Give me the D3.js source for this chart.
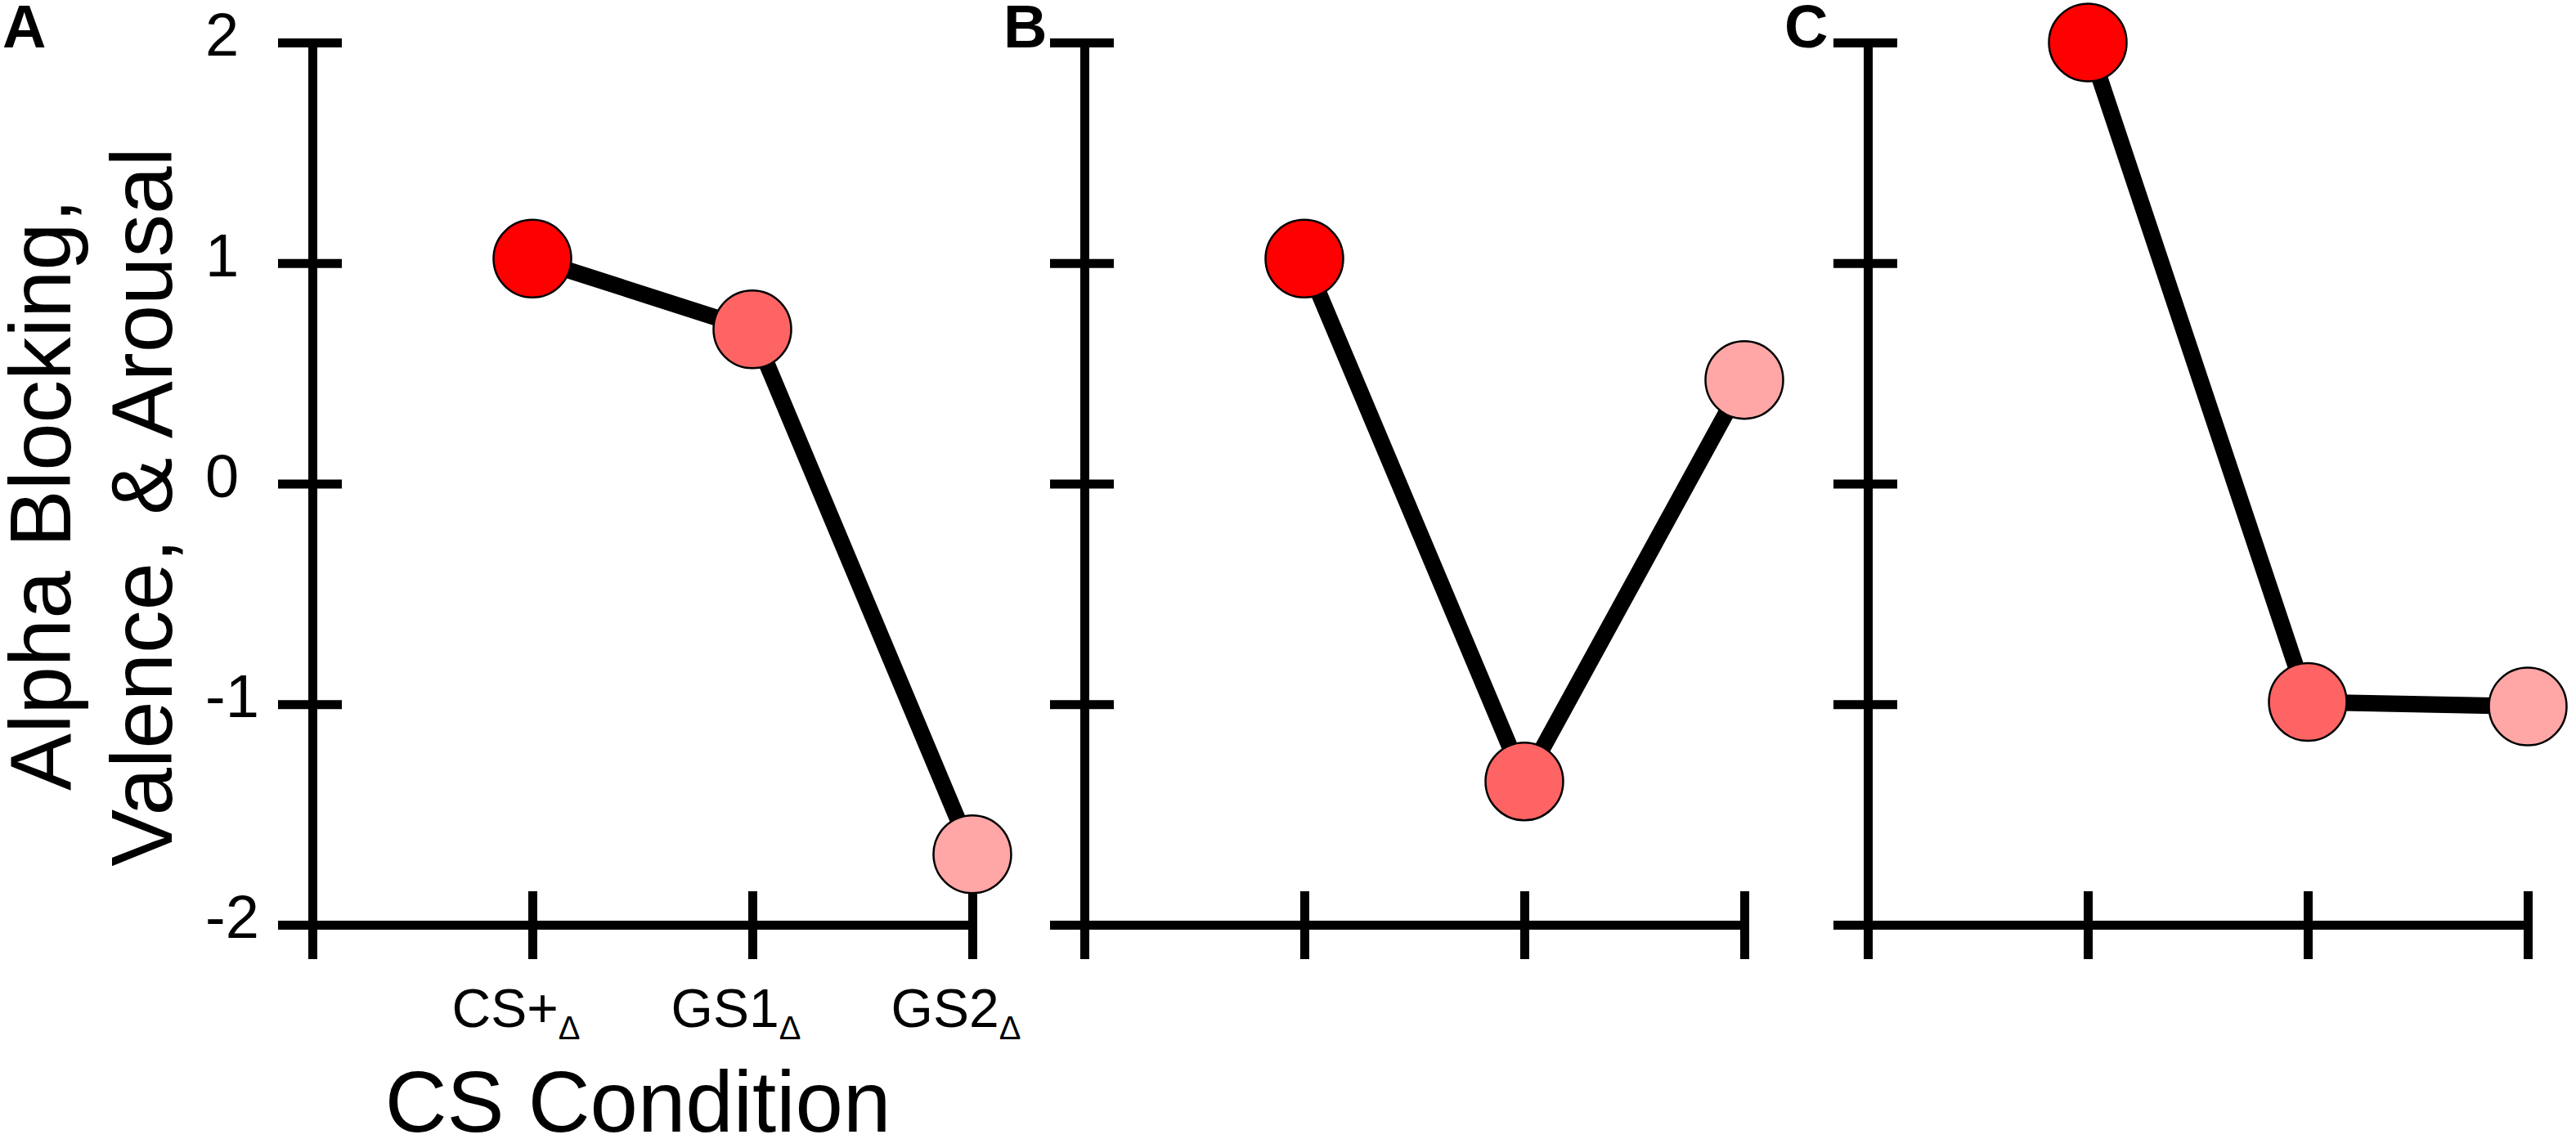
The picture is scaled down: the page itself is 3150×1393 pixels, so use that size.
<!DOCTYPE html>
<html>
<head>
<meta charset="utf-8">
<title>CS condition panels</title>
<script src="https://d3js.org/d3.v7.min.js"></script>
<style>
  body { margin: 0; background: #fff; }
  svg { display: block; font-family: "Liberation Sans", Arial, sans-serif; }
</style>
</head>
<body>
<script>
// data
const categories = ["CS+", "GS1", "GS2"];
const panelNames = ["A", "B", "C"];
const valuesA = [1.02, 0.70, -1.68];
const valuesB = [1.02, -1.35, 0.47];
const valuesC = [2.00, -0.99, -1.01];
const yTicks = [-2, -1, 0, 1, 2];

const panels = [valuesA, valuesB, valuesC];

const W = 3150, H = 1393;
const panelLeft = [382, 1326, 2284];   // where each y axis sits
const letterX = [3, 1227, 2182];
const step = 269;

const svg = d3.select("body").append("svg")
  .attr("width", W).attr("height", H);

const y = d3.scaleLinear().domain([-2, 2]).range([1131, 52]);
const fill = d3.scaleOrdinal(categories, ["#ff0000", "#ff6464", "#ffa6a6"]);

panels.forEach((vals, p) => {
  const x0 = panelLeft[p];
  const x = d3.scalePoint()
    .domain(["", ...categories])
    .range([x0, x0 + step * categories.length]);

  const g = svg.append("g");

  // y axis, ticks cross the line
  const yAx = g.append("g")
    .attr("transform", `translate(${x0},0)`)
    .call(d3.axisLeft(y).tickValues(yTicks).tickSizeOuter(0).tickFormat(""));
  yAx.select(".domain").attr("stroke", "#000").attr("stroke-width", 11);
  yAx.selectAll(".tick line")
    .attr("x1", 36).attr("x2", -42)
    .attr("stroke", "#000").attr("stroke-width", 11);

  // x axis, same style
  const xAx = g.append("g")
    .attr("transform", `translate(0,${y(-2)})`)
    .call(d3.axisBottom(x).tickSizeOuter(0).tickFormat(""));
  xAx.select(".domain").attr("stroke", "#000").attr("stroke-width", 11);
  xAx.selectAll(".tick line")
    .attr("y1", -41).attr("y2", 42)
    .attr("stroke", "#000").attr("stroke-width", 11);

  const line = d3.line()
    .x((d, i) => x(categories[i]))
    .y(d => y(d));
  g.append("path")
    .datum(vals)
    .attr("d", line)
    .attr("fill", "none")
    .attr("stroke", "#000")
    .attr("stroke-width", 20);

  g.selectAll("circle")
    .data(vals)
    .join("circle")
    .attr("cx", (d, i) => x(categories[i]))
    .attr("cy", d => y(d))
    .attr("r", 47.5)
    .attr("fill", (d, i) => fill(categories[i]))
    .attr("stroke", "#000")
    .attr("stroke-width", 2.5);

  svg.append("text")
    .attr("x", letterX[p])
    .attr("y", 58)
    .attr("font-size", 74)
    .attr("font-weight", "bold")
    .text(panelNames[p]);

  if (p === 0) {
    g.selectAll(".ylab")
      .data(yTicks)
      .join("text")
      .attr("x", 251)
      .attr("y", d => y(d) + 16)
      .attr("font-size", 74)
      .text(d => d);

    // x tick labels, delta as subscript
    const xl = g.selectAll(".xlab")
      .data(categories)
      .join("text")
      .attr("x", d => x(d) - 20)
      .attr("y", 1256)
      .attr("text-anchor", "middle")
      .attr("font-size", 66);
    xl.append("tspan").text(d => d);
    xl.append("tspan").attr("font-size", 40).attr("dy", 15).text("\u0394");

    svg.append("text")
      .attr("x", 780)
      .attr("y", 1384)
      .attr("text-anchor", "middle")
      .attr("font-size", 105)
      .text("CS Condition");

    svg.append("text")
      .attr("transform", "translate(86,605) rotate(-90)")
      .attr("text-anchor", "middle")
      .attr("font-size", 105)
      .text("Alpha Blocking,");
    svg.append("text")
      .attr("transform", "translate(210,620) rotate(-90)")
      .attr("text-anchor", "middle")
      .attr("font-size", 105)
      .text("Valence, & Arousal");
  }
});
</script>
</body>
</html>
